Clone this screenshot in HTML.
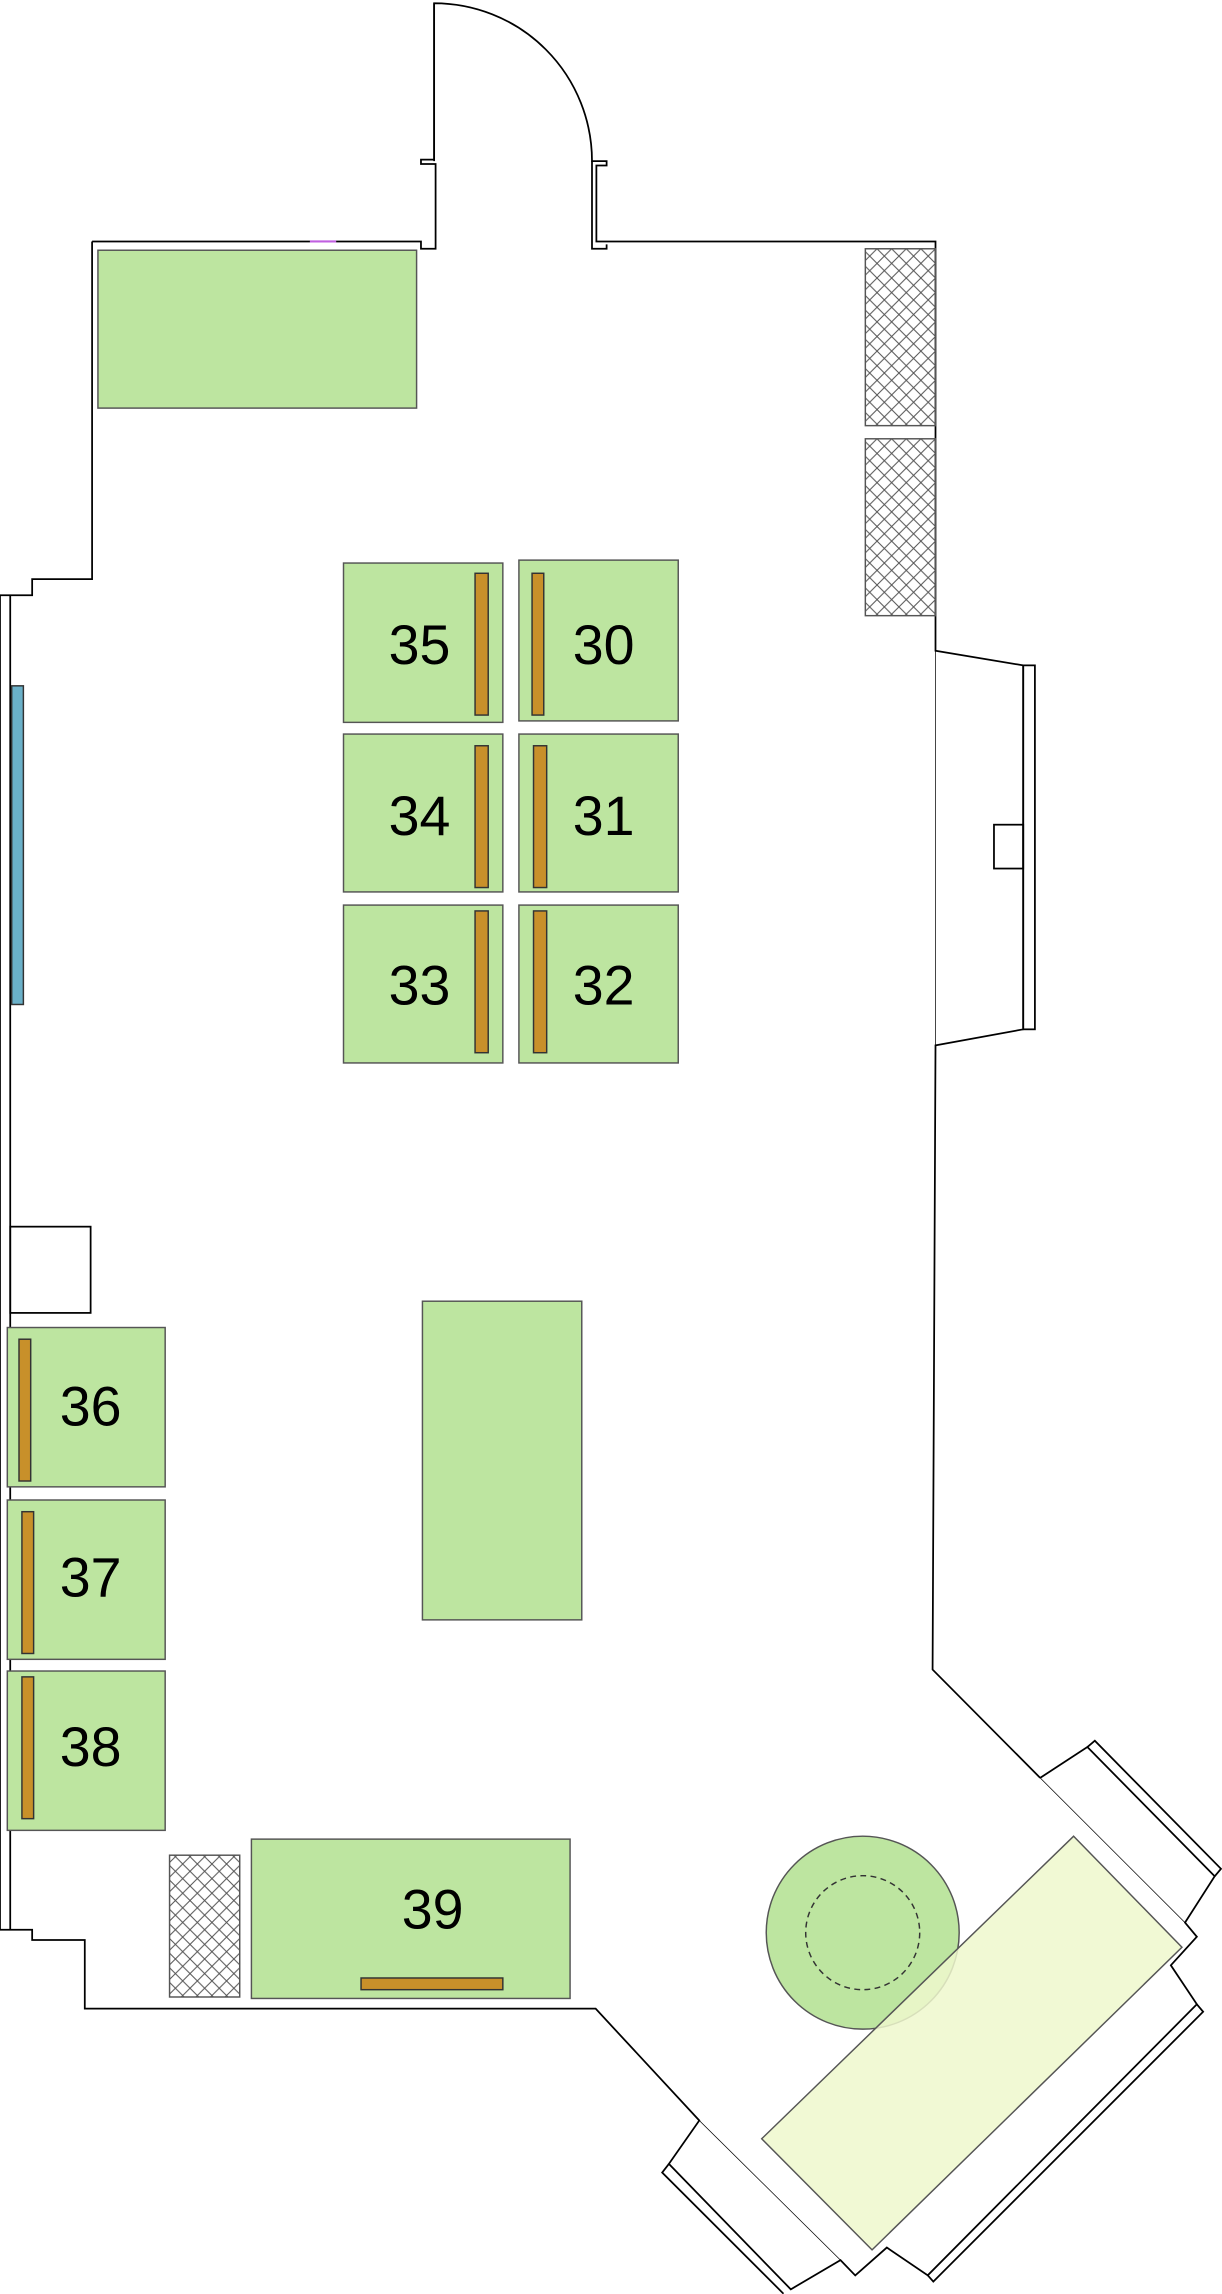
<!DOCTYPE html>
<html><head><meta charset="utf-8"><style>html,body{margin:0;padding:0;background:#fff}svg{display:block}</style></head><body>
<svg width="1222" height="2294" viewBox="0 0 836 1569" xmlns="http://www.w3.org/2000/svg" font-family="Liberation Sans, sans-serif">
<defs>
<pattern id="h" width="10" height="10" patternUnits="userSpaceOnUse">
<path d="M0 0L10 10M10 0L0 10" stroke="#555" stroke-width="0.7"/>
</pattern>
</defs>
<g fill="none" stroke="#000" stroke-width="1.2">
<path d="M63 165H288V170H298V112H288V109H297V2 A108 108 0 0 1 405 110H415V113H408V165H640V445L700 455V704L640 715L638 1142L711.6 1216.1"/>
<path d="M297 2V110"/>
<path d="M405 110V170H415V167"/>
<rect x="700" y="455" width="8" height="249"/>
<rect x="680" y="564" width="20" height="30"/>
<path d="M640 445V715" stroke-width="0.5"/>
<path d="M63 165V396H22V407H0V1320H22V1327H58V1374H407.5L478.4 1450.5L457.6 1480.2L541 1566L575 1546L585.1 1556.5L606.7 1537.4L634.7 1556.4L818.8 1371L801 1344.3L818.8 1324.8L810.7 1315.1L831 1283.4L743.9 1195L711.6 1216.1"/>
<path d="M7 407V1320"/>
<path d="M743.9 1195L749 1190.7L835.3 1278.3L831 1283.4"/>
<path d="M818.8 1371L823.1 1376.1L638.5 1560.7L634.7 1556.4"/>
<path d="M457.6 1480.2L453 1486.1L536 1569"/>
<path d="M711.6 1216.1L810.7 1315.1M478.4 1450.5L575 1546" stroke-width="0.5"/>
<rect x="7" y="839" width="55" height="59"/>
</g>
<line x1="212" y1="165" x2="230" y2="165" stroke="#c060e0" stroke-width="1.5"/>
<g fill="#bde5a0" stroke="#555" stroke-width="1">
<rect x="67" y="171" width="218" height="108"/>
<rect x="235" y="385" width="109" height="109"/>
<rect x="355" y="383" width="109" height="110"/>
<rect x="235" y="502" width="109" height="108"/>
<rect x="355" y="502" width="109" height="108"/>
<rect x="235" y="619" width="109" height="108"/>
<rect x="355" y="619" width="109" height="108"/>
<rect x="5" y="908" width="108" height="109"/>
<rect x="5" y="1026" width="108" height="109"/>
<rect x="5" y="1143" width="108" height="109"/>
<rect x="172" y="1258" width="218" height="109"/>
<rect x="289" y="890" width="109" height="218"/>
<circle cx="590.2" cy="1322" r="66"/>
</g>
<circle cx="590.2" cy="1322" r="39" fill="none" stroke="#333" stroke-dasharray="4 3"/>
<polygon points="734.5,1256 808.6,1332 596.6,1539 521.1,1463" fill="#eef8cc" fill-opacity="0.85" stroke="#555"/>
<g fill="#c8902a" stroke="#333" stroke-width="1">
<rect x="325" y="392" width="9" height="97"/>
<rect x="364" y="392" width="8" height="97"/>
<rect x="325" y="510" width="9" height="97"/>
<rect x="365" y="510" width="9" height="97"/>
<rect x="325" y="623" width="9" height="97"/>
<rect x="365" y="623" width="9" height="97"/>
<rect x="13" y="916" width="8" height="97"/>
<rect x="15" y="1034" width="8" height="97"/>
<rect x="15" y="1147" width="8" height="97"/>
<rect x="247" y="1353" width="97" height="8"/>
</g>
<rect x="8" y="469" width="8" height="218" fill="#6ab0c8" stroke="#333"/>
<g fill="url(#h)" stroke="#555">
<rect x="592" y="170" width="48" height="121"/>
<rect x="592" y="300" width="48" height="121"/>
<rect x="116" y="1269" width="48" height="97"/>
</g>
<g font-size="38" fill="#000" text-anchor="middle">
<text x="287" y="454">35</text>
<text x="413" y="454">30</text>
<text x="287" y="571">34</text>
<text x="413" y="571">31</text>
<text x="287" y="687">33</text>
<text x="413" y="687">32</text>
<text x="62" y="975">36</text>
<text x="62" y="1092">37</text>
<text x="62" y="1208">38</text>
<text x="296" y="1319">39</text>
</g>
</svg>
</body></html>
